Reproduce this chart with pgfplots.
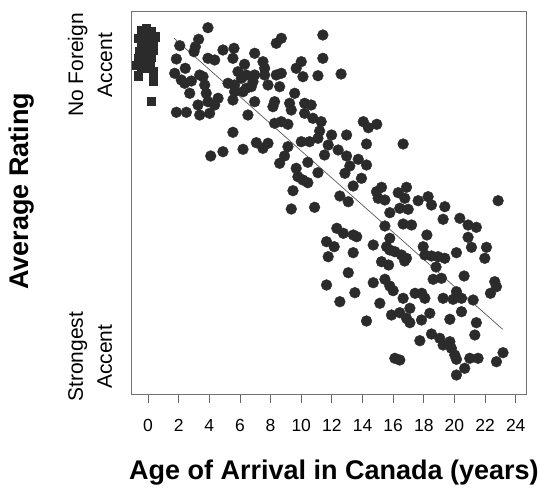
\documentclass[border=0pt]{standalone}
\usepackage{fontspec}
\setmainfont{Liberation Sans}
\usepackage{pgfplots}
\pgfplotsset{compat=1.18}
\definecolor{dot}{HTML}{2B2B2B}
\begin{document}
\begin{tikzpicture}
\useasboundingbox (-131.5pt,-96pt) rectangle (412.5pt,394pt);
\begin{axis}[
 at={(0,0)}, anchor=south west,
 scale only axis, width=394.5pt, height=383pt,
 xmin=-1.08, xmax=24.67, ymin=0, ymax=383,
 axis line style={draw=black!55, line width=0.9pt},
 xtick={0,2,...,24}, ytick=\empty,
 tick align=outside, major tick length=9pt,
 xtick style={draw=black!60, line width=0.9pt},
 xticklabel style={font=\fontsize{17.5}{17.5}\selectfont, yshift=-13pt},
 /pgf/number format/assume math mode=true,
 xtick pos=bottom,
 clip=false,
]
% native speakers (squares)
\addplot[only marks, mark=square*, mark size=4.2pt, draw=dot, fill=dot, mark options={draw=dot, fill=dot}] table {
x y
-0.43 364.0
-0.11 365.7
0.22 362.3
0.43 357.3
-0.33 357.3
-0.65 355.7
0.00 354.0
0.33 350.7
-0.43 349.0
-0.11 345.7
0.33 344.0
-0.54 342.3
-0.22 339.0
0.22 337.3
-0.65 335.7
-0.33 332.3
0.11 330.7
-0.76 329.0
-0.43 325.7
0.00 325.7
0.33 322.3
-0.65 318.3
0.33 313.0
0.22 293.0
};
% immigrants (circles)
\addplot[only marks, mark=*, mark size=5.4pt, draw=dot, fill=dot, mark options={draw=dot, fill=dot}] table {
x y
3.91 366.3
3.30 354.7
3.09 347.3
3.00 342.3
2.07 348.3
4.89 344.0
5.61 345.7
5.54 335.7
6.96 340.7
3.91 335.7
4.35 334.0
1.85 335.0
6.30 329.7
7.50 332.3
7.61 325.7
8.70 355.7
8.37 350.7
11.41 359.0
11.41 335.7
10.00 332.3
9.67 325.7
10.11 317.3
11.09 318.3
2.43 325.7
1.74 320.7
2.17 314.0
2.39 310.7
2.83 313.0
2.72 300.7
3.37 319.0
3.59 317.3
3.70 309.0
3.80 300.7
3.26 289.0
3.37 279.0
4.02 280.7
3.91 292.3
4.57 295.7
4.35 289.0
5.22 310.7
5.65 309.0
5.87 322.3
6.09 315.7
6.41 319.0
6.96 319.0
6.20 302.3
6.74 307.3
6.85 312.3
5.65 302.3
5.54 294.0
6.41 305.7
7.61 319.0
8.37 319.0
8.70 320.7
7.83 309.0
8.59 307.3
8.26 292.3
8.15 287.3
6.96 292.3
9.57 300.7
9.24 290.7
9.35 284.0
10.22 290.7
10.65 289.0
10.22 280.7
10.76 275.7
6.52 279.0
1.85 281.7
2.50 281.7
8.26 270.7
8.70 272.3
9.13 269.7
5.54 261.7
11.30 272.3
11.20 263.0
12.60 320.0
14.05 272.3
14.38 266.3
14.93 269.7
7.07 251.3
7.50 245.7
7.83 250.7
6.20 244.7
4.89 242.3
4.09 238.0
9.13 247.3
8.91 238.0
8.59 230.7
10.00 252.3
10.54 252.3
11.09 255.7
11.52 239.0
10.43 231.7
9.67 225.7
9.78 217.3
10.11 214.0
10.43 211.3
11.09 221.3
9.46 203.3
9.35 185.0
10.87 186.7
11.98 259.0
12.96 259.0
14.26 250.0
16.65 250.0
11.76 249.0
12.41 244.0
12.96 238.0
13.72 234.7
14.26 229.0
13.17 228.0
12.85 220.7
13.93 215.7
13.39 208.0
12.52 198.0
13.07 192.3
14.91 202.3
15.24 206.7
15.46 194.0
15.02 195.7
16.33 201.3
16.87 206.7
16.76 195.7
15.78 181.3
16.43 185.7
16.98 184.7
17.63 193.3
18.28 197.3
18.50 189.0
19.37 187.3
22.85 193.3
19.26 174.7
20.35 175.7
20.89 169.0
21.43 166.7
20.89 156.7
15.46 168.0
16.65 170.0
17.20 169.0
18.20 159.0
12.32 165.7
12.75 160.7
13.40 159.0
13.62 157.3
11.65 152.3
12.15 147.3
13.39 141.3
14.70 149.0
15.78 155.7
15.57 147.3
15.78 144.0
16.11 142.3
16.54 139.0
16.87 135.7
17.96 147.3
18.07 139.0
18.50 138.0
18.93 137.3
19.37 135.7
20.13 141.3
21.11 146.7
22.09 146.7
21.98 135.7
11.76 137.3
15.24 132.3
15.70 129.0
16.75 133.0
18.80 127.0
13.07 121.3
11.65 109.0
14.70 111.3
15.46 114.7
15.78 108.0
16.00 103.3
13.50 101.3
12.52 92.3
15.13 90.7
16.65 95.7
17.09 85.7
17.43 100.7
17.87 100.7
18.07 95.7
18.61 114.7
19.15 115.7
20.63 118.0
19.26 95.7
19.91 94.7
20.13 102.3
20.46 95.7
21.22 94.0
22.63 112.3
22.74 107.3
22.35 100.7
14.26 73.0
15.89 79.0
16.43 81.3
16.87 75.7
17.09 71.3
17.85 74.0
18.39 80.7
19.70 74.7
20.46 82.3
21.43 71.3
21.33 59.0
17.74 53.3
18.50 60.0
19.04 55.7
19.26 49.0
19.70 52.3
19.80 45.7
20.02 39.0
20.13 34.7
16.11 35.7
16.43 34.0
21.00 35.7
21.54 35.7
23.17 41.3
22.74 32.3
20.67 25.7
20.13 19.0
};
% regression line
\addplot[draw=black!65, line width=0.7pt] coordinates {(1.70,355.7) (23.15,64.7)};
% labels
\node[rotate=90, font=\bfseries\fontsize{27}{27}\selectfont] at (axis description cs:-0.2775,0.53) {Average Rating};
\node[font=\bfseries\fontsize{27}{27}\selectfont] at (axis description cs:0.513,-0.204) {Age of Arrival in Canada (years)};
\node[rotate=90, align=center, font=\fontsize{21}{29}\selectfont] at (axis description cs:-0.105,0.859) {No Foreign\\Accent};
\node[rotate=90, align=center, font=\fontsize{21}{29}\selectfont] at (axis description cs:-0.105,0.097) {Strongest\\Accent};
\end{axis}
\end{tikzpicture}
\end{document}
